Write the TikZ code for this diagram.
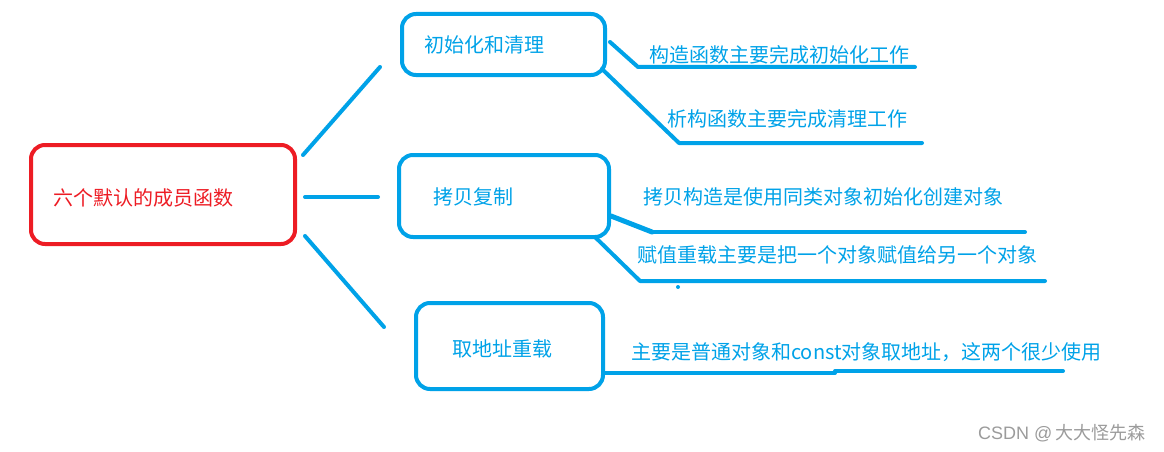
\documentclass[tikz,border=0pt]{standalone}
\usepackage{fontspec}
\newfontfamily\cjk{Noto Sans CJK SC}
\newfontfamily\latin{Liberation Sans}
\definecolor{paintblue}{RGB}{0,162,232}
\definecolor{paintred}{RGB}{237,28,36}
\definecolor{markgray}{RGB}{155,155,155}
\tikzset{
  boxln/.style={draw, line width=4pt, rounded corners=14pt, inner sep=0pt},
  branchln/.style={line width=4pt, line cap=round, line join=round, paintblue},
  notetxt/.style={anchor=west, inner sep=0pt, font=\cjk\fontsize{20pt}{24pt}\selectfont},
}

\begin{document}
\begin{tikzpicture}[x=1pt,y=-1pt]
    \useasboundingbox (0,0) rectangle (1164,452);
    % root
    \node[boxln, paintred, minimum width=264pt, minimum height=99pt] (root) at (163,194.5) {};
    \node[notetxt, paintred] (rootlbl) at (53,198) {六个默认的成员函数};
    % middle: three boxes
    \node[boxln, paintblue, minimum width=203pt, minimum height=61pt] (init) at (503.5,44.5) {};
    \node[notetxt, paintblue] (initlbl) at (424,45) {初始化和清理};
    \node[boxln, paintblue, minimum width=210pt, minimum height=82pt] (copy) at (504,196) {};
    \node[notetxt, paintblue] (copylbl) at (433,197) {拷贝复制};
    \node[boxln, paintblue, minimum width=187pt, minimum height=86pt] (addr) at (509.5,346) {};
    \node[notetxt, paintblue] (addrlbl) at (452,349) {取地址重载};
    % right: notes
    \node[notetxt, paintblue] (ctor) at (649,55) {构造函数主要完成初始化工作};
    \node[notetxt, paintblue] (dtor) at (667,119) {析构函数主要完成清理工作};
    \node[notetxt, paintblue] (cpctor) at (643,197) {拷贝构造是使用同类对象初始化创建对象};
    \node[notetxt, paintblue] (assign) at (637,255) {赋值重载主要是把一个对象赋值给另一个对象};
    \node[notetxt, paintblue] (addrnote) at (631,352) {主要是普通对象和const对象取地址，这两个很少使用};
    % connector ends
    \coordinate (ra) at (303,155);  \coordinate (ia) at (380,67);
    \coordinate (rb) at (305,197);  \coordinate (cb) at (378,197);
    \coordinate (rc) at (305,236);  \coordinate (ac) at (384,327);
    \coordinate (i1) at (610,42);   \coordinate (i1k) at (638,67);  \coordinate (i1e) at (915,67);
    \coordinate (i2) at (602,69);   \coordinate (i2k) at (679,143); \coordinate (i2e) at (922,143);
    \coordinate (c1) at (611,216);  \coordinate (c1k) at (652,232); \coordinate (c1e) at (1025,232);
    \coordinate (c2) at (595,237);  \coordinate (c2k) at (640,281); \coordinate (c2e) at (1045,281);
    \coordinate (a1) at (603,373);  \coordinate (a1k) at (835,373); \coordinate (a1e) at (1063,371);
    \coordinate (speck) at (678,287);
    % branches
    \draw[branchln] (ra) -- (ia);
    \draw[branchln] (rb) -- (cb);
    \draw[branchln] (rc) -- (ac);
    \draw[branchln] (i1) -- (i1k) -- (i1e);
    \draw[branchln] (i2) -- (i2k) -- (i2e);
    \draw[branchln, line width=5pt] (c1) -- (c1k);
    \draw[branchln] (c1k) -- (c1e);
    \draw[branchln] (c2) -- (c2k) -- (c2e);
    \draw[branchln] (a1) -- (a1k);
    \draw[branchln] (a1k |- a1e) -- (a1e);
    \fill[paintblue] (speck) circle (2pt);
    % watermark
    \node[notetxt, markgray, font=\fontsize{18pt}{20pt}\selectfont] (mark) at (978,433)
      {{\latin CSDN}\hspace{5pt}{\latin @}\hspace{3pt}{\cjk\fontsize{18pt}{20pt}\selectfont 大大怪先森}};
  \end{tikzpicture}
\end{document}
